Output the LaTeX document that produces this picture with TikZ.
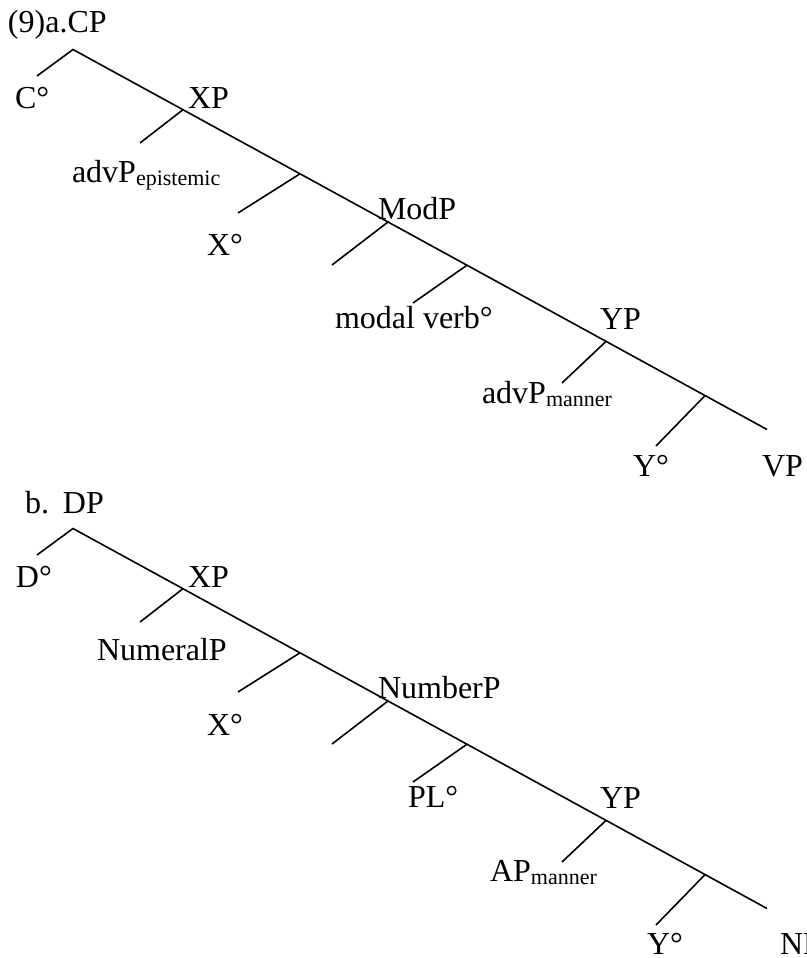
\documentclass[tikz,border=0pt]{standalone}
\usepackage{fontspec}
\setmainfont{Liberation Serif}
\newcommand{\subtxt}[1]{\raisebox{-3pt}{\fontsize{22}{22}\selectfont #1}}
\tikzset{
  lbl/.style={anchor=base west, inner sep=0pt, outer sep=0pt, font=\fontsize{32}{38}\selectfont},
  branch/.style={line width=1.6pt, line cap=butt},
}
\begin{document}
\begin{tikzpicture}[x=1pt, y=-1pt]
\useasboundingbox (0,0) rectangle (806,958);
\clip (0,0) rectangle (806,958);
% ---------- Tree (a) ----------
\coordinate (cpa) at (73,49.5);
\coordinate (cal) at (37,76);
\coordinate (xpa) at (183,109.7);
\coordinate (xpal) at (140,143);
\coordinate (xba) at (300,173.8);
\coordinate (xbal) at (238,213);
\coordinate (moda) at (388,222);
\coordinate (modal) at (332,265);
\coordinate (mva) at (467,265.2);
\coordinate (mval) at (413,303);
\coordinate (ypa) at (606,341.4);
\coordinate (ypal) at (562,383);
\coordinate (yba) at (705,395.6);
\coordinate (ybal) at (656,446);
\coordinate (enda) at (767,429.5);
\draw[branch] (cal) -- (cpa) -- (enda);
\draw[branch] (xpa) -- (xpal);
\draw[branch] (xba) -- (xbal);
\draw[branch] (moda) -- (modal);
\draw[branch] (mva) -- (mval);
\draw[branch] (ypa) -- (ypal);
\draw[branch] (yba) -- (ybal);
\node[lbl] (tcp) at (8,33) {(9)a.CP};
\node[lbl] (tc) at (15,108) {C°};
\node[lbl] (txpa) at (188,108) {XP};
\node[lbl] (tadve) at (72,182) {advP\subtxt{epistemic}};
\node[lbl] (txa) at (207,255) {X°};
\node[lbl] (tmod) at (378,219) {ModP};
\node[lbl] (tmv) at (335,328) {modal verb°};
\node[lbl] (typa) at (600,329) {YP};
\node[lbl] (tadvm) at (482,403) {advP\subtxt{manner}};
\node[lbl] (tya) at (633,476) {Y°};
\node[lbl] (tvp) at (762,476) {VP};
% ---------- Tree (b) ----------
\begin{scope}[yshift=-479pt]
\coordinate (dpb) at (73,49.5);
\coordinate (dbl) at (37,76);
\coordinate (xpb) at (183,109.7);
\coordinate (xpbl) at (140,143);
\coordinate (xbb) at (300,173.8);
\coordinate (xbbl) at (238,213);
\coordinate (numb) at (388,222);
\coordinate (numbl) at (332,265);
\coordinate (plb) at (467,265.2);
\coordinate (plbl) at (413,303);
\coordinate (ypb) at (606,341.4);
\coordinate (ypbl) at (562,383);
\coordinate (ybb) at (705,395.6);
\coordinate (ybbl) at (656,446);
\coordinate (endb) at (767,429.5);
\draw[branch] (dbl) -- (dpb) -- (endb);
\draw[branch] (xpb) -- (xpbl);
\draw[branch] (xbb) -- (xbbl);
\draw[branch] (numb) -- (numbl);
\draw[branch] (plb) -- (plbl);
\draw[branch] (ypb) -- (ypbl);
\draw[branch] (ybb) -- (ybbl);
\node[lbl] (tdp) at (25,34) {b.\hspace{14pt}DP};
\node[lbl] (td) at (16,108) {D°};
\node[lbl] (txpb) at (188,108) {XP};
\node[lbl] (tnum) at (97,181) {NumeralP};
\node[lbl] (txb) at (207,256) {X°};
\node[lbl] (tnumb) at (378,219) {NumberP};
\node[lbl] (tpl) at (408,328) {PL°};
\node[lbl] (typb) at (600,329) {YP};
\node[lbl] (tap) at (490,402) {AP\subtxt{manner}};
\node[lbl] (tyb) at (647,475) {Y°};
\node[lbl] (tnp) at (780,475) {NP};
\end{scope}
\end{tikzpicture}
\end{document}
